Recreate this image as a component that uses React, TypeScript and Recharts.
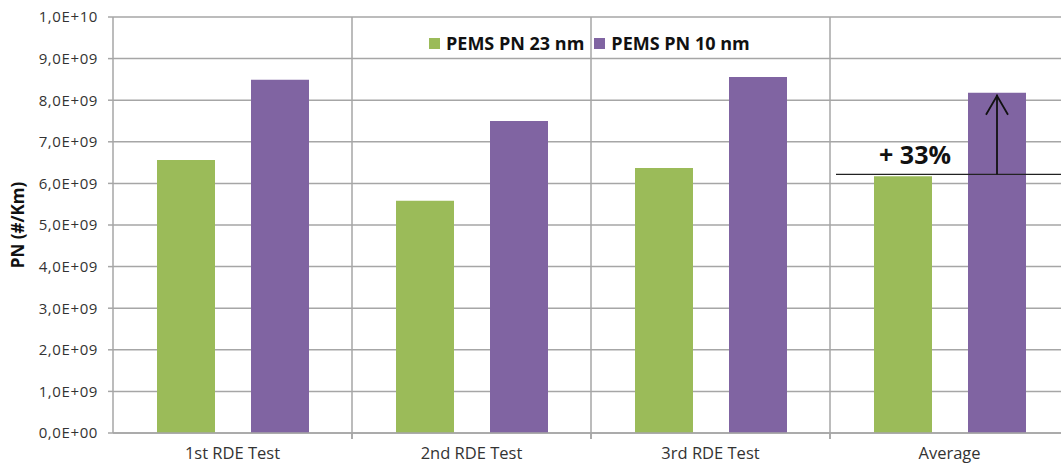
import { BarChart, Bar, XAxis, YAxis, CartesianGrid, Legend, LabelList } from "recharts";

const categories = ["1st RDE Test", "2nd RDE Test", "3rd RDE Test", "Average"];
const pn23 = [6.56e9, 5.58e9, 6.37e9, 6.17e9];
const pn10 = [8.49e9, 7.5e9, 8.56e9, 8.18e9];
const yTicks = [0, 1e9, 2e9, 3e9, 4e9, 5e9, 6e9, 7e9, 8e9, 9e9, 1e10];
const seriesNames = ["PEMS PN 23 nm", "PEMS PN 10 nm"];

const GREEN = "#9BBB59";
const PURPLE = "#8064A2";
const GRID = "#A6A6A6";
const FONT = "'Open Sans', sans-serif";

const W = 1090;
const H = 466;
const margin = { top: 17, right: 21, left: 0, bottom: 3 };
const Y_AXIS_W = 113;
const plotW = W - margin.left - margin.right - Y_AXIS_W;
const band = plotW / categories.length;

const data = categories.map((name, i) => ({ name, pn23: pn23[i], pn10: pn10[i] }));

const fmt = (v: number) => {
  const [m, e] = v.toExponential(1).split("e");
  const sign = e[0] === "-" ? "-" : "+";
  const digits = e.replace(/^[+-]/, "").padStart(2, "0");
  return m.replace(".", ",") + "E" + sign + digits;
};

function XTick(props: any) {
  const { x, y, payload, index } = props;
  return (
    <g>
      {index > 0 && (
        <line x1={x - band / 2} x2={x - band / 2} y1={y - 8} y2={y - 2} stroke={GRID} strokeWidth={1.5} />
      )}
      <line x1={x + band / 2} x2={x + band / 2} y1={y - 8} y2={y - 2} stroke={GRID} strokeWidth={1.5} />
      <text x={x} y={y + 18} textAnchor="middle" fontFamily={FONT} fontSize={16.5} fill="#333">
        {payload.value}
      </text>
    </g>
  );
}

function Increase(props: any) {
  const { x, y, width, height, index } = props;
  if (index !== categories.length - 1) return null;
  const g = pn23[index];
  const p = pn10[index];
  const base = y + height;
  const pTop = base - (height * p) / g;
  const lineY = y - 2;
  const arrowX = x + width + 36 + width / 2;
  const pct = Math.round((p / g - 1) * 100);
  return (
    <g>
      <line x1={x - 38} x2={x + 400} y1={lineY} y2={lineY} stroke="#222" strokeWidth={1.2} />
      <line x1={arrowX} x2={arrowX} y1={lineY} y2={pTop + 2} stroke="#111" strokeWidth={1.8} />
      <polyline
        points={`${arrowX - 11},${pTop + 22} ${arrowX},${pTop + 3} ${arrowX + 11},${pTop + 22}`}
        fill="none"
        stroke="#111"
        strokeWidth={1.8}
      />
      <text x={x + width / 2 + 12} y={lineY - 10} textAnchor="middle" fontFamily={FONT} fontWeight="bold" fontSize={25} fill="#111">
        {`+ ${pct}%`}
      </text>
    </g>
  );
}

function LegendBox() {
  const colors = [GREEN, PURPLE];
  return (
    <div style={{ display: "flex", alignItems: "center", fontFamily: FONT, fontWeight: "bold", fontSize: 18, color: "#111" }}>
      {seriesNames.map((n, i) => (
        <div key={n} style={{ display: "flex", alignItems: "center", marginRight: 10 }}>
          <span style={{ display: "inline-block", width: 11, height: 11, background: colors[i], marginRight: 6 }} />
          <span>{n}</span>
        </div>
      ))}
    </div>
  );
}

export default function App() {
  return (
    <div style={{ position: "absolute", left: 0, top: 0, width: 1061, height: 466, overflow: "hidden", background: "#fff" }}>
      <BarChart width={W} height={H} data={data} margin={margin} barSize={58} barGap={36}>
        <CartesianGrid
          stroke={GRID}
          strokeWidth={1.5}
          verticalCoordinatesGenerator={({ offset }: any) =>
            [1, 2, 3, 4].map((i) => offset.left + (i * offset.width) / 4)
          }
        />
        <XAxis
          dataKey="name"
          stroke={GRID}
          strokeWidth={1.5}
          tickLine={false}
          height={30}
          tick={<XTick />}
          interval={0}
        />
        <YAxis
          width={Y_AXIS_W}
          domain={[0, 1e10]}
          ticks={yTicks}
          tickFormatter={fmt}
          stroke={GRID}
          strokeWidth={1.5}
          tickSize={5}
          tickMargin={10}
          tick={{ fontFamily: FONT, fontSize: 15, fill: "#333", letterSpacing: 0.6 }}
          label={{
            value: "PN (#/Km)",
            angle: -90,
            position: "insideLeft",
            offset: 18,
            style: { fontFamily: FONT, fontWeight: "bold", fontSize: 17, fill: "#111", textAnchor: "middle" },
          }}
        />
        <Legend
          layout="horizontal"
          verticalAlign="middle"
          align="center"
          wrapperStyle={{ top: 31, left: 429, width: 380 }}
          content={<LegendBox />}
        />
        <Bar dataKey="pn23" name={seriesNames[0]} fill={GREEN} isAnimationActive={false}>
          <LabelList dataKey="pn23" content={<Increase />} />
        </Bar>
        <Bar dataKey="pn10" name={seriesNames[1]} fill={PURPLE} isAnimationActive={false} />
      </BarChart>
    </div>
  );
}
